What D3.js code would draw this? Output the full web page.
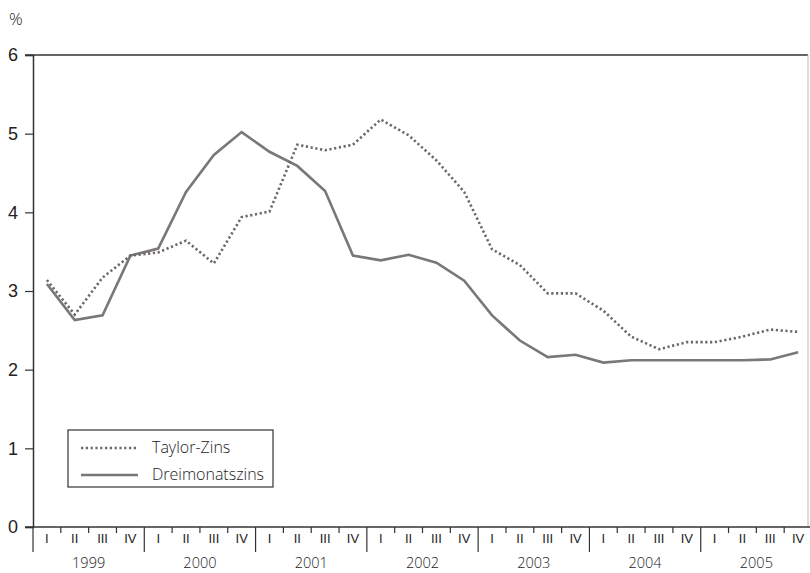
<!DOCTYPE html>
<html>
<head>
<meta charset="utf-8">
<script src="https://cdn.jsdelivr.net/npm/d3@7"></script>
<style>
  body { margin: 0; background: #fff; }
  svg { font-family: "Open Sans", sans-serif; }
</style>
</head>
<body>
<svg width="810" height="573"></svg>
<script>
var years = ["1999", "2000", "2001", "2002", "2003", "2004", "2005"];
var quarters = ["I", "II", "III", "IV"];
var yTicks = [0, 1, 2, 3, 4, 5, 6];

var taylor = [3.14, 2.70, 3.17, 3.45, 3.49, 3.64, 3.35, 3.94, 4.01, 4.86, 4.79, 4.86,
              5.18, 4.98, 4.66, 4.26, 3.53, 3.33, 2.97, 2.97, 2.75, 2.42, 2.26, 2.35,
              2.35, 2.42, 2.51, 2.48];
var dreimonat = [3.09, 2.63, 2.69, 3.45, 3.54, 4.26, 4.73, 5.02, 4.77, 4.59, 4.27, 3.45,
                 3.39, 3.46, 3.36, 3.13, 2.69, 2.37, 2.16, 2.19, 2.09, 2.12, 2.12, 2.12,
                 2.12, 2.12, 2.13, 2.22];

var periods = [];
years.forEach(function(y) { quarters.forEach(function(q) { periods.push(y + "-" + q); }); });

var svg = d3.select("svg"),
    margin = {top: 55, right: 0, bottom: 46, left: 33},
    width = 812 - margin.left,
    height = 573 - margin.top - margin.bottom;

var x = d3.scaleBand().domain(periods).range([0, width]);
var xYear = d3.scaleBand().domain(years).range([0, width]);
var y = d3.scaleLinear().domain([0, 6]).range([height, 0]);

var g = svg.append("g")
    .attr("transform", "translate(" + margin.left + "," + margin.top + ")");

// top line and faint right border
g.append("line").attr("x1", -8).attr("x2", 775).attr("y1", y(6)).attr("y2", y(6))
    .attr("stroke", "#333").attr("stroke-width", 1.5);
g.append("line").attr("x1", 775).attr("x2", 775).attr("y1", y(6)).attr("y2", y(0))
    .attr("stroke", "#bbb").attr("stroke-width", 1);

// y axis
var yAxis = g.append("g")
    .call(d3.axisLeft(y).tickValues(yTicks).tickFormat(d3.format("d")).tickSize(8).tickPadding(7));
yAxis.select(".domain").attr("stroke", "#333").attr("stroke-width", 1.5);
yAxis.selectAll(".tick line").attr("stroke", "#333").attr("stroke-width", 1.2);
yAxis.selectAll(".tick text").attr("font-size", 18).attr("font-weight", 300).attr("fill", "#222");

svg.append("text").attr("x", 9).attr("y", 25).attr("font-size", 17)
    .attr("font-weight", 300).attr("fill", "#222").text("%");

// x axis: quarter labels
var xAxis = g.append("g")
    .attr("transform", "translate(0," + height + ")")
    .call(d3.axisBottom(x).tickSize(0).tickPadding(7)
        .tickFormat(function(d) { return d.split("-")[1]; }));
xAxis.select(".domain").remove();
xAxis.selectAll(".tick text").attr("font-size", 13).attr("font-weight", 300).attr("fill", "#222");

g.append("line").attr("x1", -8).attr("x2", 780).attr("y1", height).attr("y2", height)
    .attr("stroke", "#333").attr("stroke-width", 1.5);

// small quarter boundary ticks
g.selectAll(".qtick")
    .data(periods.filter(function(d, i) { return i % 4 !== 0; }))
  .enter().append("line")
    .attr("x1", function(d) { return x(d); })
    .attr("x2", function(d) { return x(d); })
    .attr("y1", height).attr("y2", height + 6)
    .attr("stroke", "#333").attr("stroke-width", 1.2);

// year separators
g.selectAll(".ytick")
    .data(years)
  .enter().append("line")
    .attr("x1", function(d) { return xYear(d); })
    .attr("x2", function(d) { return xYear(d); })
    .attr("y1", height).attr("y2", height + 25)
    .attr("stroke", "#333").attr("stroke-width", 1.2);

g.selectAll(".ylabel")
    .data(years)
  .enter().append("text")
    .attr("x", function(d) { return xYear(d) + xYear.bandwidth() / 2; })
    .attr("y", height + 41)
    .attr("text-anchor", "middle")
    .attr("font-size", 14.5).attr("font-weight", 300).attr("fill", "#222")
    .text(function(d) { return d; });

// lines
var line = function(vals) {
    return d3.line()
        .x(function(d, i) { return x(periods[i]) + x.bandwidth() / 2; })
        .y(function(d) { return y(d); })(vals);
};

g.append("path").attr("d", line(dreimonat))
    .attr("fill", "none").attr("stroke", "#7a767a").attr("stroke-width", 2.6);
g.append("path").attr("d", line(taylor))
    .attr("fill", "none").attr("stroke", "#6a666c").attr("stroke-width", 2.6)
    .attr("stroke-dasharray", "2.2,2.6");

// legend
var lg = svg.append("g").attr("transform", "translate(68,430)");
lg.append("rect").attr("width", 205).attr("height", 57)
    .attr("fill", "#fff").attr("stroke", "#333").attr("stroke-width", 1.2);
lg.append("line").attr("x1", 13).attr("x2", 70).attr("y1", 18).attr("y2", 18)
    .attr("stroke", "#6a666c").attr("stroke-width", 2.6).attr("stroke-dasharray", "2.2,2.6");
lg.append("line").attr("x1", 13).attr("x2", 70).attr("y1", 45).attr("y2", 45)
    .attr("stroke", "#7a767a").attr("stroke-width", 2.6);
lg.append("text").attr("x", 84).attr("y", 23).attr("font-size", 16).attr("font-weight", 300)
    .attr("fill", "#222").text("Taylor-Zins");
lg.append("text").attr("x", 84).attr("y", 50).attr("font-size", 16).attr("font-weight", 300)
    .attr("fill", "#222").text("Dreimonatszins");
</script>
</body>
</html>
